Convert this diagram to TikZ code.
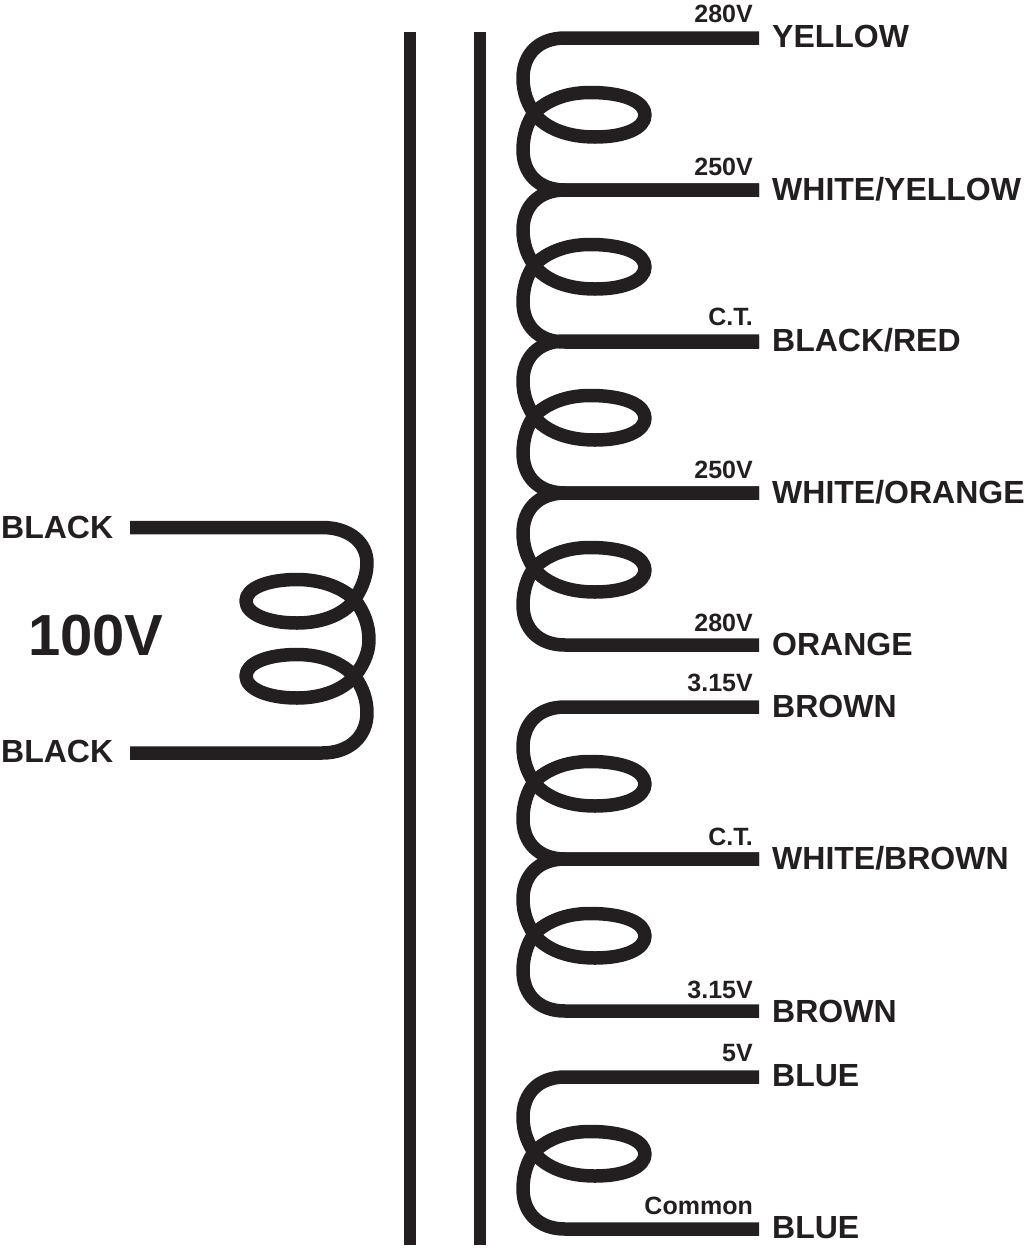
\documentclass[tikz,border=0pt]{standalone}
\usepackage{fontspec}
\setmainfont{Liberation Sans}
\usetikzlibrary{positioning}
\definecolor{inkblack}{HTML}{231F20}
\tikzset{
corebar/.style={
  line width=12.5pt,
  draw=inkblack,
  }
}
\tikzset{
coilline/.style={
  line width=13.5pt,
  draw=inkblack,
  line join=round,
  }
}
\tikzset{
wirelabel/.style={
  anchor=base west,
  inner sep=0pt,
  text=inkblack,
  font=\fontsize{32}{32}\selectfont\bfseries,
  }
}
\tikzset{
tablabel/.style={
  anchor=base east,
  inner sep=0pt,
  text=inkblack,
  font=\fontsize{25}{25}\selectfont\bfseries,
  }
}

\begin{document}
\begin{tikzpicture}[x=1pt,y=-1pt]
    \useasboundingbox (0,0) rectangle (1024,1251);

    % core
    \coordinate (core_a_top) at (410,32);
    \coordinate (core_a_bot) at (410,1245);
    \coordinate (core_b_top) at (480,32);
    \coordinate (core_b_bot) at (480,1245);
    \draw[corebar] (core_a_top) -- (core_a_bot);
    \draw[corebar] (core_b_top) -- (core_b_bot);

    % primary winding
    \coordinate (pri_top) at (130,527.5);
    \coordinate (pri_bot) at (130,753);
    \draw[coilline] (pri_top) -- (322,527.5)
        .. controls (350,527.5) and (367,543) .. (367,563)
        .. controls (367,578) and (360,592) .. (352,603)
        .. controls (340,616) and (320,623) .. (297,623)
        .. controls (268,623) and (246,614) .. (246,601)
        .. controls (246,588) and (268,579.5) .. (297,579.5)
        .. controls (322,579.5) and (343,588) .. (355,600)
        .. controls (364,612) and (369,625) .. (369,640)
        .. controls (369,654) and (362,668) .. (352,679)
        .. controls (340,691) and (320,698) .. (297,698)
        .. controls (268,698) and (246,689) .. (246,676)
        .. controls (246,663) and (268,654.5) .. (297,654.5)
        .. controls (322,654.5) and (343,663) .. (355,677)
        .. controls (363,688) and (367,700) .. (367,713)
        .. controls (367,736) and (350,753) .. (322,753)
        -- (pri_bot);

    % secondary windings, one loop between two taps
    \foreach \ytap in {38,190,341,493,707,859,1077}{
      \begin{scope}[shift={(0,\ytap)}]
        \draw[coilline] (759,0) -- (565,0)
            .. controls (538,0) and (523,17) .. (523,40)
            .. controls (523,55) and (528,67) .. (536,78)
            .. controls (548,91) and (568,99) .. (595,99)
            .. controls (625,99) and (645,90) .. (645,77)
            .. controls (645,64) and (625,54.5) .. (590,54.5)
            .. controls (565,54.5) and (546,63) .. (534,75)
            .. controls (527,85) and (523,98) .. (523,112)
            .. controls (523,135) and (538,152) .. (565,152)
            -- (759,152);
      \end{scope}
    }

    % core side labels
    \node[wirelabel, font=\fontsize{58}{58}\selectfont\bfseries] (pri_volt) at (28,655) {100V};
    \node[wirelabel] (pri_a) at (1,538) {BLACK};
    \node[wirelabel] (pri_b) at (1,762) {BLACK};

    % wire colours
    \node[wirelabel] (w_yel) at (772,47) {YELLOW};
    \node[wirelabel] (w_wyel) at (772,200) {WHITE/YELLOW};
    \node[wirelabel] (w_blkred) at (772,351) {BLACK/RED};
    \node[wirelabel] (w_worg) at (772,503) {WHITE/ORANGE};
    \node[wirelabel] (w_org) at (772,655) {ORANGE};
    \node[wirelabel] (w_brn) at (772,717) {BROWN};
    \node[wirelabel] (w_wbrn) at (772,869) {WHITE/BROWN};
    \node[wirelabel] (w_brn2) at (772,1022) {BROWN};
    \node[wirelabel] (w_blu) at (772,1086) {BLUE};
    \node[wirelabel] (w_blu2) at (772,1238) {BLUE};

    % tap voltages
    \node[tablabel] (t_280a) at (753,22) {280V};
    \node[tablabel] (t_250a) at (753,175) {250V};
    \node[tablabel] (t_cta) at (753,325) {C.T.};
    \node[tablabel] (t_250b) at (753,478) {250V};
    \node[tablabel] (t_280b) at (753,631) {280V};
    \node[tablabel] (t_315a) at (753,691) {3.15V};
    \node[tablabel] (t_ctb) at (753,845) {C.T.};
    \node[tablabel] (t_315b) at (753,998) {3.15V};
    \node[tablabel] (t_5v) at (753,1061) {5V};
    \node[tablabel] (t_com) at (753,1214) {Common};
\end{tikzpicture}
\end{document}
